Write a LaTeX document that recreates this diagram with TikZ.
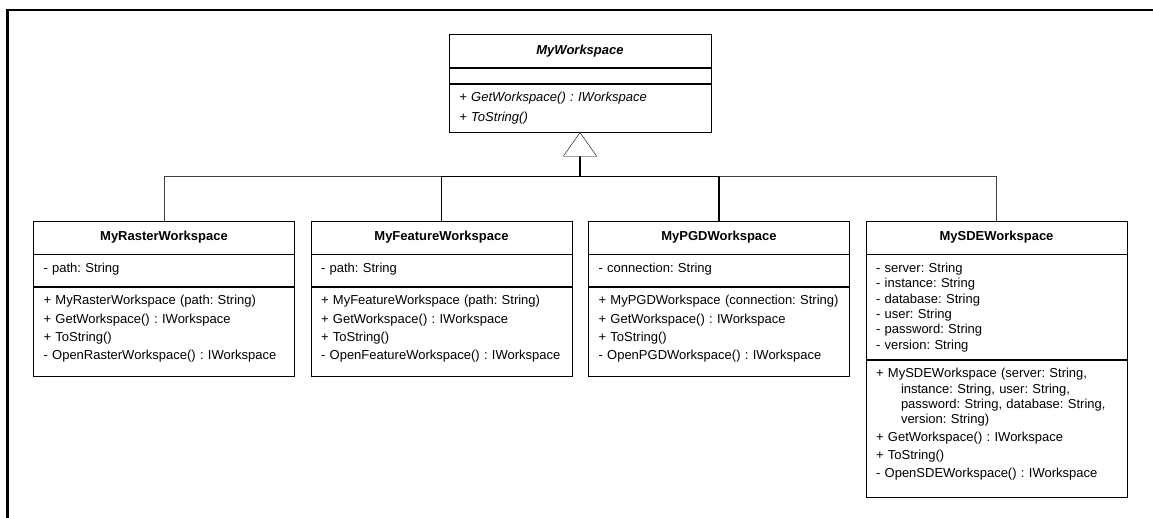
\documentclass[tikz,border=0pt]{standalone}
\usepackage{fontspec}
\setmainfont{Liberation Sans}
\usetikzlibrary{positioning}
\frenchspacing

\begin{document}
\begin{tikzpicture}[x=1pt,y=-1pt,
    every node/.style={font=\fontsize{13}{15.4}\selectfont},
    classhead/.style={draw,rectangle,minimum width=261,minimum height=33,inner sep=0pt,font=\fontsize{13}{15.4}\selectfont\bfseries},
    members/.style={draw,rectangle,text width=241,inner xsep=10pt,inner ysep=0pt,align=left,text height=18pt},
    thinlink/.style={line width=0.9pt,black!75},
    link/.style={line width=1.3pt}]
  \useasboundingbox (0,0) rectangle (1153,518);
  \draw[line width=2.2pt] (7.5,540) -- (7.5,10) -- (1170,10);

  % abstract base class
  \node[classhead,minimum width=261.4,font=\fontsize{13}{15.4}\selectfont\bfseries\itshape] (workspace) at (580,51) {MyWorkspace};
  \node[members,below=0pt of workspace,text width=241.4,text height=15.6pt,text depth=0pt] (workspaceattr) {};
  \node[members,below=0pt of workspaceattr,text width=241.4,text depth=30.5pt,font=\fontsize{13}{15.4}\selectfont\itshape] (workspaceops)
    {+ GetWorkspace() : IWorkspace\\[4pt]+ ToString()};

  % subclasses
  \node[classhead] (raster) at (164,237.5) {MyRasterWorkspace};
  \node[members,below=0pt of raster,text depth=14pt] (rasterattr) {- path: String};
  \node[members,below=0pt of rasterattr,text depth=71pt] (rasterops)
    {+ MyRasterWorkspace (path: String)\\[3pt]+ GetWorkspace() : IWorkspace\\[3pt]+ ToString()\\[3pt]- OpenRasterWorkspace() : IWorkspace};

  \node[classhead] (feature) at (441.5,237.5) {MyFeatureWorkspace};
  \node[members,below=0pt of feature,text depth=14pt] (featureattr) {- path: String};
  \node[members,below=0pt of featureattr,text depth=71pt] (featureops)
    {+ MyFeatureWorkspace (path: String)\\[3pt]+ GetWorkspace() : IWorkspace\\[3pt]+ ToString()\\[3pt]- OpenFeatureWorkspace() : IWorkspace};

  \node[classhead] (pgd) at (719,237.5) {MyPGDWorkspace};
  \node[members,below=0pt of pgd,text depth=14pt] (pgdattr) {- connection: String};
  \node[members,below=0pt of pgdattr,text depth=71pt] (pgdops)
    {+ MyPGDWorkspace (connection: String)\\[3pt]+ GetWorkspace() : IWorkspace\\[3pt]+ ToString()\\[3pt]- OpenPGDWorkspace() : IWorkspace};

  \node[classhead] (sde) at (996.5,237.5) {MySDEWorkspace};
  \node[members,below=0pt of sde,text depth=87pt] (sdeattr)
    {- server: String\\- instance: String\\- database: String\\- user: String\\- password: String\\- version: String};
  \node[members,below=0pt of sdeattr,text depth=119pt] (sdeops)
    {+ MySDEWorkspace (server: String,\\\hspace*{25pt}instance: String, user: String,\\\hspace*{25pt}password: String, database: String,\\\hspace*{25pt}version: String)\\[2.5pt]+ GetWorkspace() : IWorkspace\\[2.5pt]+ ToString()\\[2.5pt]- OpenSDEWorkspace() : IWorkspace};

  % generalization
  \coordinate (base) at (580,156);
  \coordinate (bus) at (580,176.7);
  \draw[thinlink] (raster.north) |- (bus);
  \draw[thinlink] (sde.north) |- (bus);
  \draw[link] (feature.north) |- (bus);
  \draw[link] (pgd.north) |- (bus);
  \draw[line width=2pt] (bus) -- (base);
  \draw[fill=white] (workspaceops.south) -- ++(-16.7,23.7) -- ++(33.4,0) -- cycle;
\end{tikzpicture}
\end{document}
